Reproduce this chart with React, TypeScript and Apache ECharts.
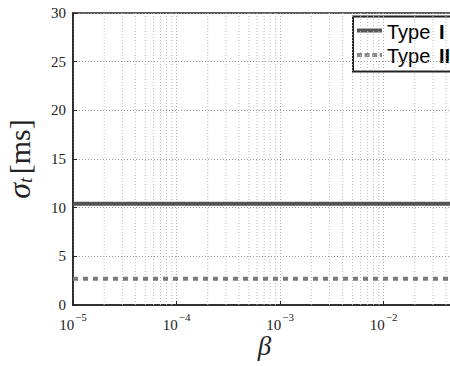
import React, { useEffect, useRef } from "react";
import * as echarts from "echarts";

const betaRange = [1e-5, 0.05];
const typeI = [10.4, 10.4];
const typeII = [2.7, 2.7];
const yTicks = [0, 5, 10, 15, 20, 25, 30];
const decades = [1e-5, 1e-4, 1e-3, 1e-2];
const mantissas = [2, 3, 4, 5, 6, 7, 8, 9];
const minorBetas = decades
  .flatMap((d) => mantissas.map((m) => m * d))
  .filter((v) => v < betaRange[1]);
const legendWord = "Type";
const legendNumerals = ["I", "II"];

const serif = "Liberation Serif";
const sans = "Liberation Sans, Arial, Helvetica, sans-serif";
const colI = "#555";
const colII = "#7a7a7a";

export default function App() {
  const ref = useRef<HTMLDivElement>(null);
  useEffect(() => {
    const chart = echarts.init(ref.current!, null, { renderer: "svg" });
    const supFmt = (v: number) => {
      const e = Math.log10(v);
      const r = Math.round(e);
      if (Math.abs(e - r) > 1e-6) return "";
      return `{b|10}{s|${r < 0 ? "\u2212" : ""}${Math.abs(r)}}`;
    };
    const yMin = yTicks[0];
    const yMax = yTicks[yTicks.length - 1];
    const minorData: any[] = [];
    minorBetas.forEach((b) => {
      minorData.push([b, yMin], [b, yMax], [b, "-"]);
    });
    const legendRich = {
      n: { fontFamily: sans, fontSize: 20, fontWeight: "normal", color: "#111" },
      b: { fontFamily: sans, fontSize: 20, fontWeight: "bold", color: "#111", padding: [0, 0, 0, 3] },
    };
    chart.setOption({
      animation: false,
      backgroundColor: "#fff",
      grid: {
        left: 73,
        right: -6,
        top: 13,
        bottom: 61,
        outerBoundsMode: "none",
        containLabel: false,
        show: true,
        borderColor: "#222",
        borderWidth: 1.5,
        backgroundColor: "transparent",
      },
      graphic: [
        {
          type: "group",
          z: 100,
          children: [
            {
              type: "rect",
              shape: { x: 353, y: 16.5, width: 120, height: 55 },
              style: { fill: "#fff", stroke: "#222", lineWidth: 2 },
            },
            {
              type: "line",
              shape: { x1: 357, y1: 30.5, x2: 382, y2: 30.5 },
              style: { stroke: colI, lineWidth: 4 },
            },
            {
              type: "line",
              shape: { x1: 357, y1: 55, x2: 382, y2: 55 },
              style: { stroke: "#888", lineWidth: 4, lineDash: [5, 2.6] },
            },
            {
              type: "text",
              x: 387,
              y: 32,
              style: {
                text: `{n|${legendWord}}{b|\u00a0${legendNumerals[0]}}`,
                rich: legendRich,
                fontSize: 20,
                fontFamily: sans,
                verticalAlign: "middle",
              },
            },
            {
              type: "text",
              x: 387,
              y: 56,
              style: {
                text: `{n|${legendWord}}{b|\u00a0${legendNumerals[1]}}`,
                rich: legendRich,
                fontSize: 20,
                fontFamily: sans,
                verticalAlign: "middle",
              },
            },
          ],
        },
      ],
      xAxis: {
        type: "log",
        logBase: 10,
        min: betaRange[0],
        max: betaRange[1],
        name: "\u03b2",
        nameLocation: "middle",
        nameGap: 27,
        nameMoveOverlap: false,
        nameTextStyle: { fontFamily: serif, fontStyle: "italic", fontSize: 27, color: "#222" },
        axisLine: { show: true, lineStyle: { color: "#222", width: 1.5 } },
        axisTick: { show: true, inside: true, length: 4, lineStyle: { color: "#222" } },
        axisLabel: {
          margin: 6,
          formatter: supFmt,
          rich: {
            b: { fontFamily: serif, fontSize: 15, lineHeight: 21, color: "#222", verticalAlign: "bottom" },
            s: { fontFamily: serif, fontSize: 11, lineHeight: 11, color: "#222", verticalAlign: "top", padding: [0, 0, 0, 1] },
          },
        },
        splitLine: { show: true, lineStyle: { color: "#aaa", type: [1, 2], width: 1 } },
      },
      yAxis: {
        type: "value",
        min: yMin,
        max: yMax,
        interval: 5,
        name: "{sig|\u03c3}{sub|t} {ms|[ms]}",
        nameLocation: "middle",
        nameGap: 38,
        nameMoveOverlap: false,
        nameTextStyle: {
          rich: {
            sig: { fontFamily: serif, fontStyle: "italic", fontSize: 32, color: "#222" },
            sub: { fontFamily: serif, fontStyle: "italic", fontSize: 19, color: "#222", padding: [12, 0, 0, 0] },
            ms: { fontFamily: serif, fontSize: 30, color: "#222" },
          },
        },
        axisLine: { show: true, lineStyle: { color: "#222", width: 1.5 } },
        axisTick: { show: true, inside: true, length: 4, lineStyle: { color: "#222" } },
        axisLabel: { fontFamily: serif, fontSize: 15, color: "#222", margin: 7 },
        splitLine: { show: true, lineStyle: { color: "#999", type: [1, 2], width: 1 } },
      },
      series: [
        {
          name: "minorGrid",
          type: "line",
          symbol: "none",
          silent: true,
          connectNulls: false,
          z: 1,
          data: minorData,
          lineStyle: { color: "#bbb", type: [1, 2], width: 1 },
        },
        {
          name: "Type I",
          type: "line",
          symbol: "none",
          z: 3,
          data: betaRange.map((b, i) => [b, typeI[i]]),
          lineStyle: { color: colI, width: 4 },
          itemStyle: { color: colI },
        },
        {
          name: "Type II",
          type: "line",
          symbol: "none",
          z: 3,
          data: betaRange.map((b, i) => [b, typeII[i]]),
          lineStyle: { color: colII, width: 4, type: [5, 5] },
          itemStyle: { color: colII },
        },
      ],
    });
    return () => chart.dispose();
  }, []);
  return (
    <div
      ref={ref}
      style={{ position: "fixed", left: 0, top: 0, width: 450, height: 366, background: "#fff" }}
    />
  );
}
